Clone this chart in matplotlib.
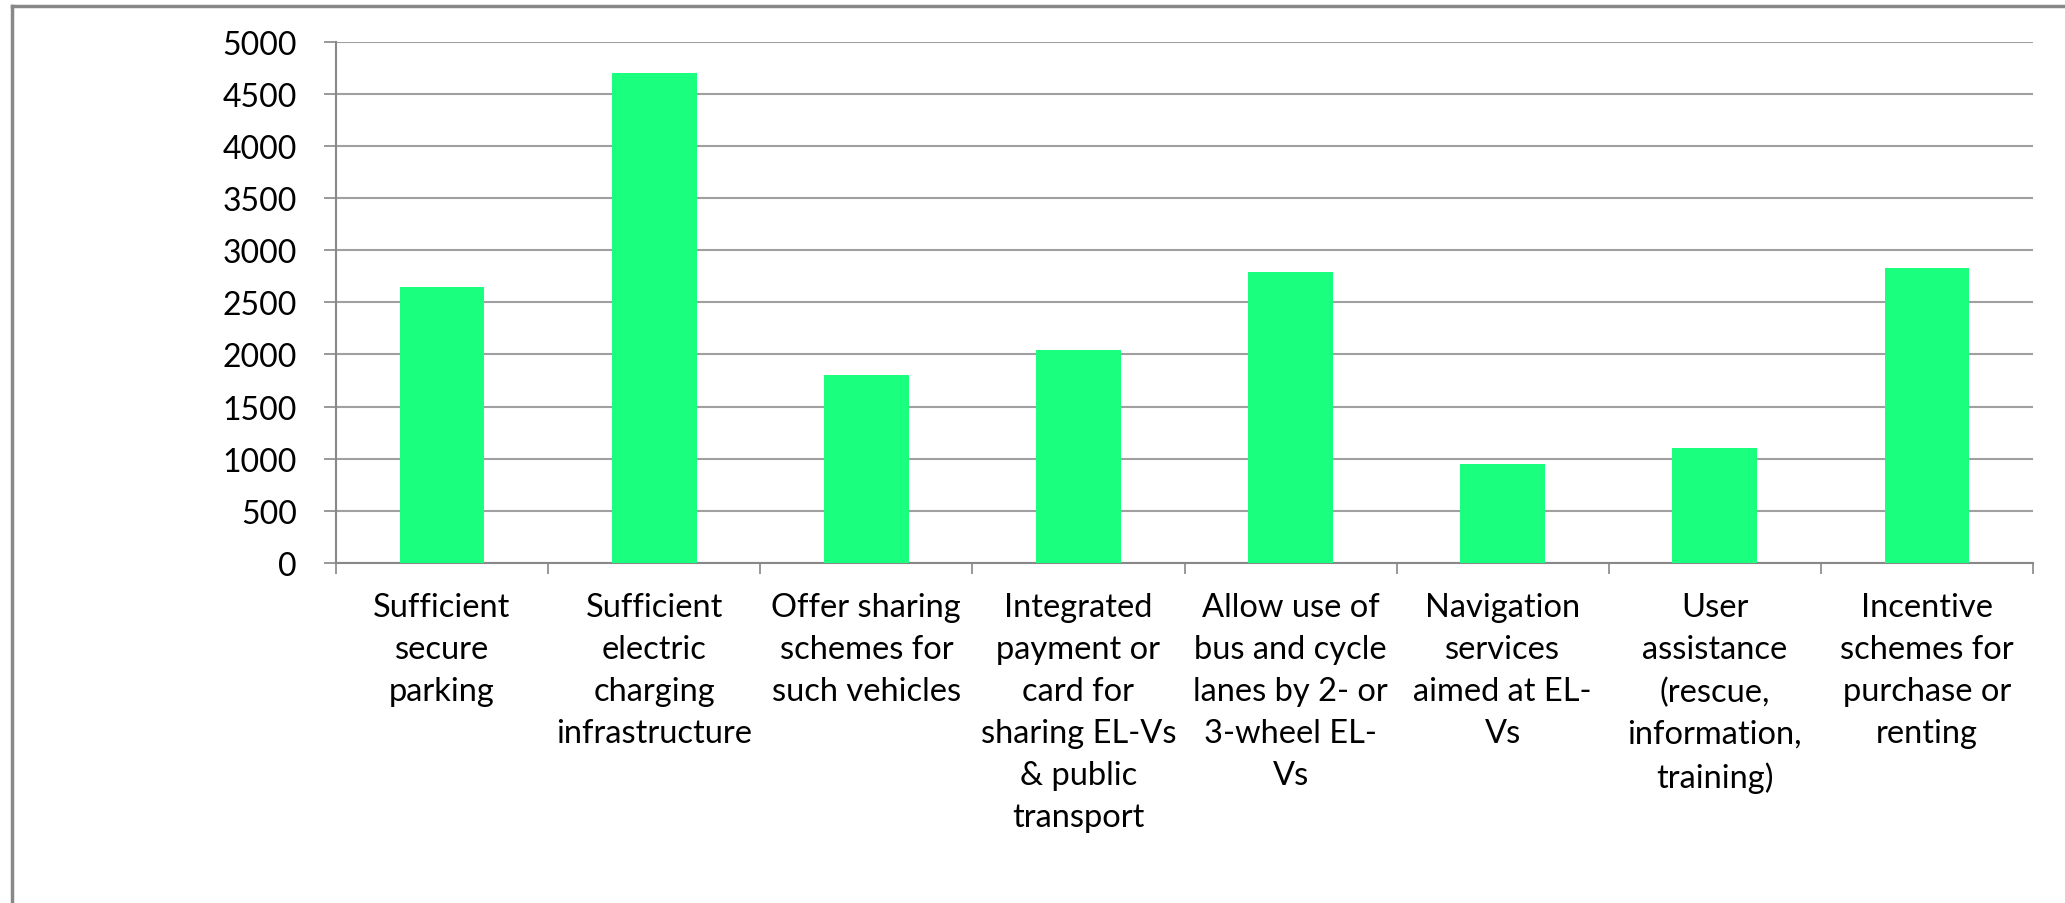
import matplotlib
matplotlib.use("Agg")
import matplotlib.pyplot as plt
from matplotlib.lines import Line2D

categories = [
    "Sufficient\nsecure\nparking",
    "Sufficient\nelectric\ncharging\ninfrastructure",
    "Offer sharing\nschemes for\nsuch vehicles",
    "Integrated\npayment or\ncard for\nsharing EL-Vs\n& public\ntransport",
    "Allow use of\nbus and cycle\nlanes by 2- or\n3-wheel EL-\nVs",
    "Navigation\nservices\naimed at EL-\nVs",
    "User\nassistance\n(rescue,\ninformation,\ntraining)",
    "Incentive\nschemes for\npurchase or\nrenting",
]
values = [2650, 4695, 1805, 2045, 2795, 950, 1100, 2825]
yticks = [0, 500, 1000, 1500, 2000, 2500, 3000, 3500, 4000, 4500, 5000]

plt.rcParams['font.family'] = ['Lato', 'DejaVu Sans']

W, H = 2065, 904
fig = plt.figure(figsize=(W / 100, H / 100), dpi=100)
ax = fig.add_axes([336 / W, 1 - 564 / H, (2033 - 336) / W, (564 - 42.7) / H])

x = list(range(len(values)))
ax.bar(x, values, width=0.4, color='#1AFF7D', zorder=3)

ax.set_xlim(-0.5, len(values) - 0.5)
ax.set_ylim(0, 5000)
ax.set_yticks(yticks)
ax.set_yticklabels([str(v) for v in yticks], fontsize=23)
ax.yaxis.grid(True, color='#A0A0A0', linewidth=1.5, zorder=0)
ax.set_axisbelow(True)

ax.set_xticks(x)
ax.set_xticklabels(categories, fontsize=23.5, linespacing=1.5, va='top')
ax.set_xticks([i - 0.5 for i in range(len(values) + 1)], minor=True)
ax.tick_params(axis='x', which='major', length=0, pad=21)
ax.tick_params(axis='x', which='minor', length=8, width=1.2, color='#888888')
ax.tick_params(axis='y', length=9, width=1.2, color='#888888', pad=19)

for s in ['top', 'right']:
    ax.spines[s].set_visible(False)
for s in ['left', 'bottom']:
    ax.spines[s].set_color('#888888')
    ax.spines[s].set_linewidth(1.5)

# outer frame (top and left edges)
fig.add_artist(Line2D([12 / W, 1], [1 - 7 / H, 1 - 7 / H], color='#888888', linewidth=2.5, transform=fig.transFigure))
fig.add_artist(Line2D([12 / W, 12 / W], [0, 1 - 7 / H], color='#888888', linewidth=2.5, transform=fig.transFigure))

fig.savefig('out.png', dpi=100, facecolor='white')
